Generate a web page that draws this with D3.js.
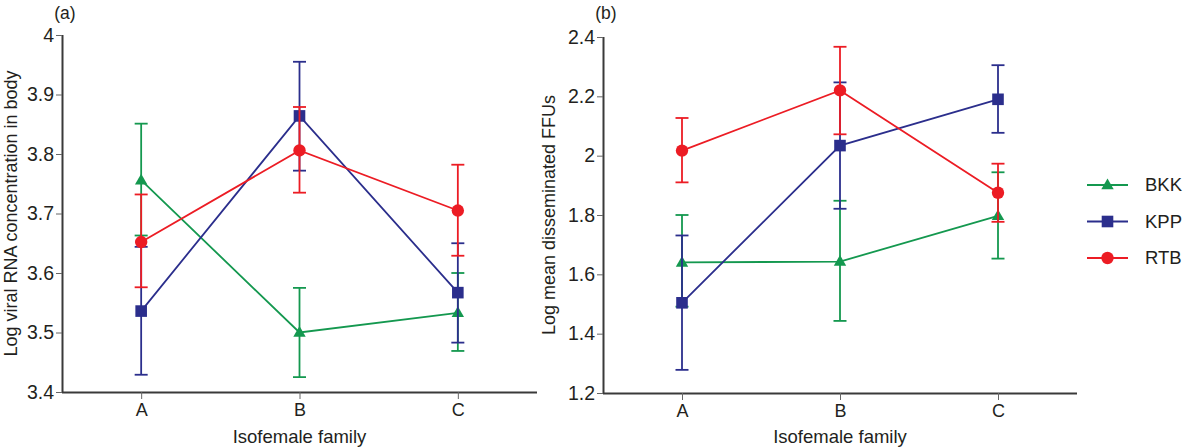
<!DOCTYPE html>
<html>
<head>
<meta charset="utf-8">
<script src="https://cdn.jsdelivr.net/npm/d3@7"></script>
<style>
  html, body { margin: 0; padding: 0; background: #fff; }
  svg { display: block; font-family: "Liberation Sans", Arial, Helvetica, sans-serif; }
</style>
</head>
<body>
<svg id="chart" width="1200" height="448"></svg>
<script>
// ---------- data ----------
const categories = ["A", "B", "C"];
const seriesNames = ["BKK", "KPP", "RTB"];

// Panel (a): Log viral RNA concentration in body
const bodyMeanBKK = [3.756, 3.500, 3.533];
const bodyLowBKK  = [3.663, 3.425, 3.469];
const bodyHighBKK = [3.851, 3.575, 3.600];
const bodyMeanKPP = [3.536, 3.864, 3.567];
const bodyLowKPP  = [3.429, 3.772, 3.483];
const bodyHighKPP = [3.644, 3.955, 3.650];
const bodyMeanRTB = [3.652, 3.806, 3.705];
const bodyLowRTB  = [3.576, 3.735, 3.629];
const bodyHighRTB = [3.732, 3.879, 3.782];

// Panel (b): Log mean disseminated FFUs
const ffuMeanBKK = [1.640, 1.643, 1.797];
const ffuLowBKK  = [1.491, 1.443, 1.653];
const ffuHighBKK = [1.800, 1.848, 1.944];
const ffuMeanKPP = [1.504, 2.034, 2.190];
const ffuLowKPP  = [1.278, 1.821, 2.077];
const ffuHighKPP = [1.731, 2.247, 2.305];
const ffuMeanRTB = [2.017, 2.220, 1.875];
const ffuLowRTB  = [1.910, 2.072, 1.777];
const ffuHighRTB = [2.127, 2.367, 1.973];

const bodyTicks = [3.4, 3.5, 3.6, 3.7, 3.8, 3.9, 4];
const ffuTicks = [1.2, 1.4, 1.6, 1.8, 2, 2.2, 2.4];

// ---------- style ----------
const colors = { BKK: "#14984f", KPP: "#2b2e8c", RTB: "#ec1c24" };
const shapes = { BKK: "triangle", KPP: "square", RTB: "circle" };
const textColor = "#231f20";
const axisColor = "#3a3a3a";

const svg = d3.select("#chart");

function drawMarker(g, shape, color) {
  if (shape === "square") {
    g.append("rect").attr("x", -5.8).attr("y", -5.8).attr("width", 11.6).attr("height", 11.6).attr("fill", color);
  } else if (shape === "circle") {
    g.append("circle").attr("r", 6.2).attr("fill", color);
  } else {
    g.append("path").attr("d", "M0,-6.5 L6.2,4.2 L-6.2,4.2 Z").attr("fill", color);
  }
}

function panel(opts) {
  const { left, right, top, bottom, domain, ticks, series, ylabel, tag, ylabelX } = opts;
  const g = svg.append("g");
  const x = d3.scalePoint().domain(categories).range([left, right]).padding(0.5);
  const y = d3.scaleLinear().domain(domain).range([bottom, top]);

  // y axis
  const ya = g.append("g").attr("transform", `translate(${left},0)`)
    .call(d3.axisLeft(y).tickValues(ticks).tickFormat(d3.format("~g")).tickSize(6).tickPadding(2));
  ya.select(".domain").attr("stroke", axisColor).attr("stroke-width", 2).attr("d", `M0.5,${bottom}V${top}`);
  ya.selectAll(".tick line").attr("stroke", "#666").attr("stroke-width", 1);
  ya.selectAll(".tick text").attr("fill", textColor).attr("font-size", 19.5).attr("font-family", "Liberation Sans, Arial, sans-serif");

  // x axis
  const xa = g.append("g").attr("transform", `translate(0,${bottom})`)
    .call(d3.axisBottom(x).tickSize(7).tickPadding(4));
  xa.select(".domain").attr("stroke", axisColor).attr("stroke-width", 2).attr("d", `M${left},0.5H${right}`);
  xa.selectAll(".tick line").attr("stroke", "#666").attr("stroke-width", 1);
  xa.selectAll(".tick text").attr("fill", textColor).attr("font-size", 18).attr("font-family", "Liberation Sans, Arial, sans-serif");

  // axis titles
  g.append("text").attr("x", (left + right) / 2).attr("y", 443).attr("text-anchor", "middle")
    .attr("font-size", 18.5).attr("fill", textColor).text("Isofemale family");
  g.append("text").attr("transform", `translate(${ylabelX},${(top + bottom) / 2}) rotate(-90)`)
    .attr("text-anchor", "middle").attr("font-size", 18).attr("fill", textColor).text(ylabel);
  g.append("text").attr("x", left + 3).attr("y", 19).attr("text-anchor", "middle")
    .attr("font-size", 17.5).attr("fill", textColor).text(tag);

  // series
  series.forEach(s => {
    const col = colors[s.name];
    const pts = categories.map((c, i) => ({ c, m: s.mean[i], lo: s.low[i], hi: s.high[i] }));
    const sg = g.append("g");
    // error bars
    pts.forEach(p => {
      const cx = x(p.c);
      sg.append("line").attr("x1", cx).attr("x2", cx).attr("y1", y(p.lo)).attr("y2", y(p.hi))
        .attr("stroke", col).attr("stroke-width", 1.8);
      [p.lo, p.hi].forEach(v => {
        sg.append("line").attr("x1", cx - 6.5).attr("x2", cx + 6.5).attr("y1", y(v)).attr("y2", y(v))
          .attr("stroke", col).attr("stroke-width", 1.8);
      });
    });
    // line
    sg.append("path").datum(pts)
      .attr("d", d3.line().x(p => x(p.c)).y(p => y(p.m)))
      .attr("fill", "none").attr("stroke", col).attr("stroke-width", 1.8);
    // markers
    pts.forEach(p => {
      const mg = sg.append("g").attr("transform", `translate(${x(p.c)},${y(p.m)})`);
      drawMarker(mg, shapes[s.name], col);
    });
  });
}

panel({
  left: 62, right: 537, top: 35, bottom: 392,
  domain: [3.4, 4], ticks: bodyTicks,
  ylabel: "Log viral RNA concentration in body", tag: "(a)", ylabelX: 17,
  series: [
    { name: "BKK", mean: bodyMeanBKK, low: bodyLowBKK, high: bodyHighBKK },
    { name: "KPP", mean: bodyMeanKPP, low: bodyLowKPP, high: bodyHighKPP },
    { name: "RTB", mean: bodyMeanRTB, low: bodyLowRTB, high: bodyHighRTB }
  ]
});

panel({
  left: 603, right: 1077, top: 37, bottom: 393,
  domain: [1.2, 2.4], ticks: ffuTicks,
  ylabel: "Log mean disseminated FFUs", tag: "(b)", ylabelX: 555,
  series: [
    { name: "BKK", mean: ffuMeanBKK, low: ffuLowBKK, high: ffuHighBKK },
    { name: "KPP", mean: ffuMeanKPP, low: ffuLowKPP, high: ffuHighKPP },
    { name: "RTB", mean: ffuMeanRTB, low: ffuLowRTB, high: ffuHighRTB }
  ]
});

// legend
const legend = svg.append("g");
seriesNames.forEach((name, i) => {
  const ly = 185 + i * 36.5;
  const lg = legend.append("g").attr("transform", `translate(0,${ly})`);
  lg.append("line").attr("x1", 1087).attr("x2", 1128).attr("y1", 0).attr("y2", 0)
    .attr("stroke", colors[name]).attr("stroke-width", 1.8);
  const mg = lg.append("g").attr("transform", "translate(1107.5,0)");
  drawMarker(mg, shapes[name], colors[name]);
  lg.append("text").attr("x", 1145).attr("y", 0).attr("dy", "0.35em")
    .attr("font-size", 18.5).attr("fill", textColor).text(name);
});
</script>
</body>
</html>
